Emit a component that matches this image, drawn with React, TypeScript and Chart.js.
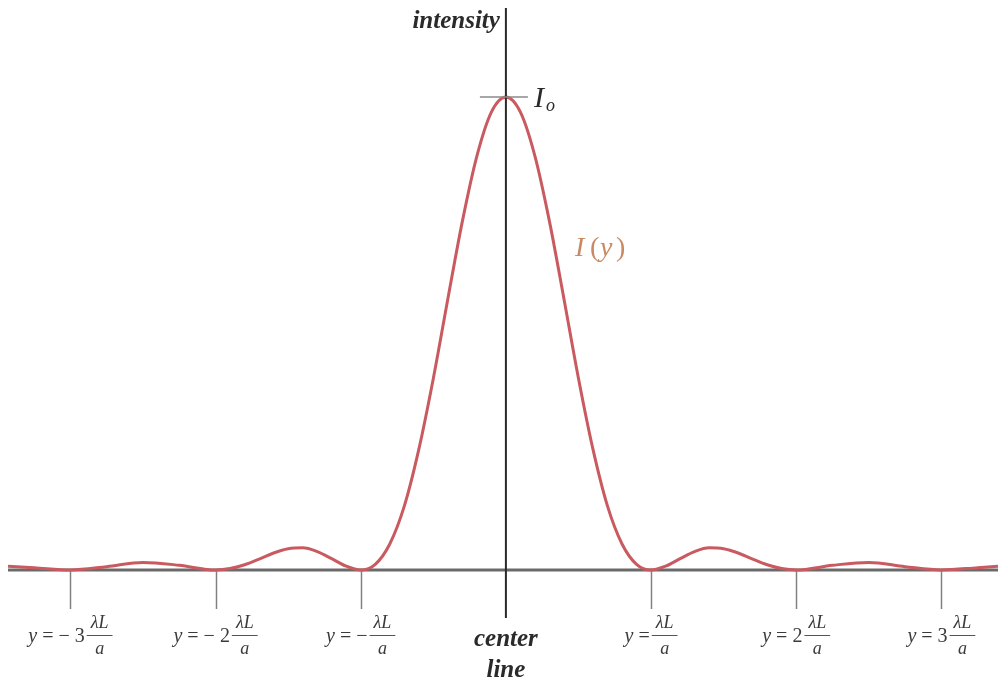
import { useEffect, useRef } from "react";
import { Chart, registerables } from "chart.js";

Chart.register(...registerables);

// Position on the screen, in units of λL/a
const POSITIONS = [
  -3.43, -3.25, -3, -2.75, -2.5, -2.25, -2,
  -1.9, -1.8, -1.7, -1.6, -1.5, -1.4, -1.3, -1.2, -1.1, -1,
  -0.9, -0.8, -0.7, -0.6, -0.5, -0.4, -0.3, -0.2, -0.1, 0,
  0.1, 0.2, 0.3, 0.4, 0.5, 0.6, 0.7, 0.8, 0.9, 1,
  1.1, 1.2, 1.3, 1.4, 1.5, 1.6, 1.7, 1.8, 1.9, 2,
  2.25, 2.5, 2.75, 3, 3.25, 3.39,
];

// Relative intensity I(y) / I_o
const INTENSITY = [
  0.008, 0.005, 0, 0.007, 0.016, 0.01, 0,
  0.003, 0.011, 0.023, 0.036, 0.045, 0.047, 0.039, 0.024, 0.008, 0,
  0.012, 0.055, 0.135, 0.255, 0.405, 0.573, 0.737, 0.875, 0.968, 1,
  0.968, 0.875, 0.737, 0.573, 0.405, 0.255, 0.135, 0.055, 0.012, 0,
  0.008, 0.024, 0.039, 0.047, 0.045, 0.036, 0.023, 0.011, 0.003, 0,
  0.01, 0.016, 0.007, 0, 0.005, 0.008,
];

// Dark fringes (minima) and the text before each fraction
const MINIMA = [-3, -2, -1, 1, 2, 3];
const MINIMA_PREFIX = [" = − 3", " = − 2", " = −", " =", " = 2", " = 3"];

const SERIF = '"Liberation Serif", "DejaVu Serif", serif';

const annotations = {
  id: "diffractionAnnotations",
  beforeDatasetsDraw(chart: Chart) {
    const { ctx } = chart;
    const xs = chart.scales.x;
    const ys = chart.scales.y;
    const y0 = ys.getPixelForValue(0);
    ctx.save();
    // horizontal axis
    ctx.strokeStyle = "#6a6a6a";
    ctx.lineWidth = 3;
    ctx.beginPath();
    ctx.moveTo(8, y0);
    ctx.lineTo(998, y0);
    ctx.stroke();
    // tick marks at minima
    ctx.strokeStyle = "#808080";
    ctx.lineWidth = 1.5;
    for (const m of MINIMA) {
      const px = Math.round(xs.getPixelForValue(m)) + 0.5;
      ctx.beginPath();
      ctx.moveTo(px, y0 + 1);
      ctx.lineTo(px, y0 + 39);
      ctx.stroke();
    }
    ctx.restore();
  },
  afterDraw(chart: Chart) {
    const { ctx } = chart;
    const xs = chart.scales.x;
    const ys = chart.scales.y;
    const x0 = xs.getPixelForValue(0);
    const y0 = ys.getPixelForValue(0);
    const yPeak = ys.getPixelForValue(1);
    ctx.save();

    // vertical center line
    ctx.strokeStyle = "#2a2a2a";
    ctx.lineWidth = 2;
    ctx.beginPath();
    ctx.moveTo(x0, 8);
    ctx.lineTo(x0, y0 + 48);
    ctx.stroke();

    // peak marker
    ctx.strokeStyle = "#8a8a8a";
    ctx.lineWidth = 1.5;
    ctx.beginPath();
    ctx.moveTo(x0 - 26, yPeak);
    ctx.lineTo(x0 + 22, yPeak);
    ctx.stroke();

    ctx.fillStyle = "#2a2a2a";
    ctx.textBaseline = "alphabetic";

    // axis title
    ctx.font = `italic bold 25px ${SERIF}`;
    ctx.textAlign = "right";
    ctx.fillText("intensity", x0 - 6, 28);

    // center line caption
    ctx.textAlign = "center";
    ctx.fillText("center", x0, y0 + 76);
    ctx.fillText("line", x0, y0 + 107);

    // I_o
    ctx.textAlign = "left";
    ctx.font = `italic 30px ${SERIF}`;
    ctx.fillText("I", x0 + 28, yPeak + 10);
    ctx.font = `italic 18px ${SERIF}`;
    ctx.fillText("o", x0 + 40, yPeak + 14);

    // I(y) curve label
    ctx.fillStyle = "#c98a63";
    const lx = x0 + 69;
    const ly = 256;
    ctx.font = `italic 28px ${SERIF}`;
    ctx.fillText("I", lx, ly);
    ctx.font = `28px ${SERIF}`;
    ctx.fillText("(", lx + 15, ly);
    ctx.font = `italic 28px ${SERIF}`;
    ctx.fillText("y", lx + 25, ly);
    ctx.font = `28px ${SERIF}`;
    ctx.fillText(")", lx + 41, ly);

    // minima labels: "y = n λL/a"
    ctx.fillStyle = "#3a3a3a";
    MINIMA.forEach((m, i) => {
      const px = xs.getPixelForValue(m);
      const prefixFont = `20px ${SERIF}`;
      const yFont = `italic 20px ${SERIF}`;
      const fracFont = `italic 18px ${SERIF}`;
      ctx.font = yFont;
      const wY = ctx.measureText("y").width;
      ctx.font = prefixFont;
      const wP = ctx.measureText(MINIMA_PREFIX[i]).width;
      ctx.font = fracFont;
      const wNum = ctx.measureText("λL").width;
      const wFrac = wNum + 8;
      const gap = 2;
      const total = wY + wP + gap + wFrac;
      let cx = px - total / 2;
      const base = y0 + 72;
      ctx.textAlign = "left";
      ctx.font = yFont;
      ctx.fillText("y", cx, base);
      cx += wY;
      ctx.font = prefixFont;
      ctx.fillText(MINIMA_PREFIX[i], cx, base);
      cx += wP + gap;
      const fx = cx + wFrac / 2;
      ctx.font = fracFont;
      ctx.textAlign = "center";
      ctx.fillText("λL", fx, base - 14);
      ctx.fillText("a", fx, base + 12);
      ctx.strokeStyle = "#555";
      ctx.lineWidth = 1;
      ctx.beginPath();
      ctx.moveTo(cx, base - 6.5);
      ctx.lineTo(cx + wFrac, base - 6.5);
      ctx.stroke();
    });

    ctx.restore();
  },
};

export default function App() {
  const canvasRef = useRef<HTMLCanvasElement | null>(null);

  useEffect(() => {
    const canvas = canvasRef.current;
    if (!canvas) return;
    const chart = new Chart(canvas, {
      type: "line",
      data: {
        datasets: [
          {
            data: POSITIONS.map((x, i) => ({ x, y: INTENSITY[i] })),
            borderColor: "#c85a60",
            borderWidth: 3,
            pointRadius: 0,
            fill: false,
            cubicInterpolationMode: "monotone",
            clip: false,
          },
        ],
      },
      options: {
        responsive: false,
        animation: false,
        devicePixelRatio: 1,
        layout: { padding: { left: 8, right: 0, top: 97, bottom: 114 } },
        plugins: {
          legend: { display: false },
          tooltip: { enabled: false },
        },
        scales: {
          x: { type: "linear", min: -3.43, max: 3.39, display: false },
          y: { type: "linear", min: 0, max: 1, display: false },
        },
      },
      plugins: [annotations],
    });
    return () => chart.destroy();
  }, []);

  return (
    <div style={{ position: "fixed", left: 0, top: 0, width: 998, height: 684, background: "#fff" }}>
      <canvas ref={canvasRef} width={998} height={684} style={{ display: "block" }} />
    </div>
  );
}
